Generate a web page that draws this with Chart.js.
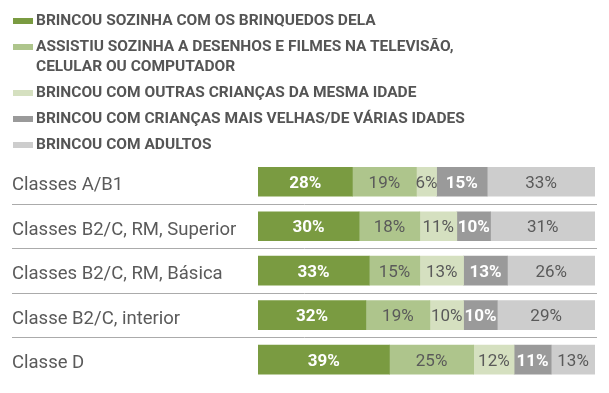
<!DOCTYPE html>
<html>
<head>
<meta charset="utf-8">
<script src="https://cdn.jsdelivr.net/npm/chart.js@4"></script>
<style>
    html, body { margin: 0; padding: 0; background: #fff; }
    #wrap { position: relative; width: 609px; height: 393px; }
    #legend {
        position: absolute; left: 13px; top: 10px; margin: 0; padding: 0; list-style: none;
        font-family: Roboto, sans-serif; font-weight: bold; font-size: 15.5px; color: #555;
    }
    #legend li { position: relative; padding-left: 23px; line-height: 20px; margin-bottom: 6px; max-width: 473px; }
    #legend li span { position: absolute; left: 0; top: 8px; width: 20px; height: 6px; }
    #chart { position: absolute; left: 0; top: 0; }
</style>
</head>
<body>
<div id="wrap">
    <canvas id="chart" width="609" height="393"></canvas>
    <ul id="legend"></ul>
</div>
<script>
const categories = [
    'Classes A/B1',
    'Classes B2/C, RM, Superior',
    'Classes B2/C, RM, Básica',
    'Classe B2/C, interior',
    'Classe D'
];

const seriesLabels = [
    'BRINCOU SOZINHA COM OS BRINQUEDOS DELA',
    'ASSISTIU SOZINHA A DESENHOS E FILMES NA TELEVISÃO, CELULAR OU COMPUTADOR',
    'BRINCOU COM OUTRAS CRIANÇAS DA MESMA IDADE',
    'BRINCOU COM CRIANÇAS MAIS VELHAS/DE VÁRIAS IDADES',
    'BRINCOU COM ADULTOS'
];

const brinquedos = [28, 30, 33, 32, 39];
const telas = [19, 18, 15, 19, 25];
const mesmaIdade = [6, 11, 13, 10, 12];
const maisVelhas = [15, 10, 13, 10, 11];
const adultos = [33, 31, 26, 29, 13];

const seriesColors = ['#7a9b41', '#aec58c', '#d5e0c0', '#9a9a9a', '#cdcdcd'];
const labelColors = ['#ffffff', '#5a5a5a', '#5a5a5a', '#ffffff', '#5a5a5a'];
const labelBold = [true, false, false, true, false];

const allSeries = [brinquedos, telas, mesmaIdade, maisVelhas, adultos];

// legend built from the series labels
const legend = document.getElementById('legend');
legend.innerHTML = seriesLabels.map((label, i) => `
    <li><span style="background:${seriesColors[i]}"></span>${label}</li>
`).join('');

// thin lines between rows, running under the labels too
const rowSeparators = {
    id: 'rowSeparators',
    afterDraw(chart) {
        const y = chart.scales.y;
        const ctx = chart.ctx;
        ctx.save();
        ctx.strokeStyle = '#ababab';
        ctx.lineWidth = 1;
        for (let i = 0; i < categories.length - 1; i++) {
            const py = Math.round((y.getPixelForValue(i) + y.getPixelForValue(i + 1)) / 2) + 0.5;
            ctx.beginPath();
            ctx.moveTo(12, py);
            ctx.lineTo(597, py);
            ctx.stroke();
        }
        ctx.restore();
    }
};

// percentage inside each segment
const segmentLabels = {
    id: 'segmentLabels',
    afterDatasetsDraw(chart) {
        const ctx = chart.ctx;
        ctx.save();
        ctx.textAlign = 'center';
        ctx.textBaseline = 'middle';
        chart.data.datasets.forEach((ds, di) => {
            const meta = chart.getDatasetMeta(di);
            ctx.fillStyle = labelColors[di];
            ctx.font = (labelBold[di] ? 'bold ' : '') + '17px Roboto, sans-serif';
            meta.data.forEach((bar, i) => {
                const right = Math.min(bar.x, chart.chartArea.right);
                const cx = (right + bar.base) / 2;
                ctx.fillText(ds.data[i] + '%', cx, bar.y + 2);
            });
        });
        ctx.restore();
    }
};

new Chart(document.getElementById('chart').getContext('2d'), {
    type: 'bar',
    data: {
        labels: categories,
        datasets: allSeries.map((values, i) => ({
            label: seriesLabels[i],
            data: values,
            backgroundColor: seriesColors[i],
            borderWidth: 0,
            barThickness: 29
        }))
    },
    options: {
        indexAxis: 'y',
        responsive: false,
        animation: false,
        layout: { padding: { left: 12, right: 14, top: 159.5, bottom: 3 } },
        plugins: {
            legend: { display: false },
            tooltip: { enabled: false }
        },
        scales: {
            x: {
                stacked: true,
                min: 0,
                max: 100,
                display: false
            },
            y: {
                stacked: true,
                grid: { display: false },
                border: { display: false },
                afterFit: (scale) => { scale.width = 246; },
                ticks: {
                    crossAlign: 'far',
                    padding: 0,
                    labelOffset: 4,
                    color: '#5a5a5a',
                    font: { family: 'Roboto, sans-serif', size: 18.5 }
                }
            }
        }
    },
    plugins: [rowSeparators, segmentLabels]
});
</script>
</body>
</html>
